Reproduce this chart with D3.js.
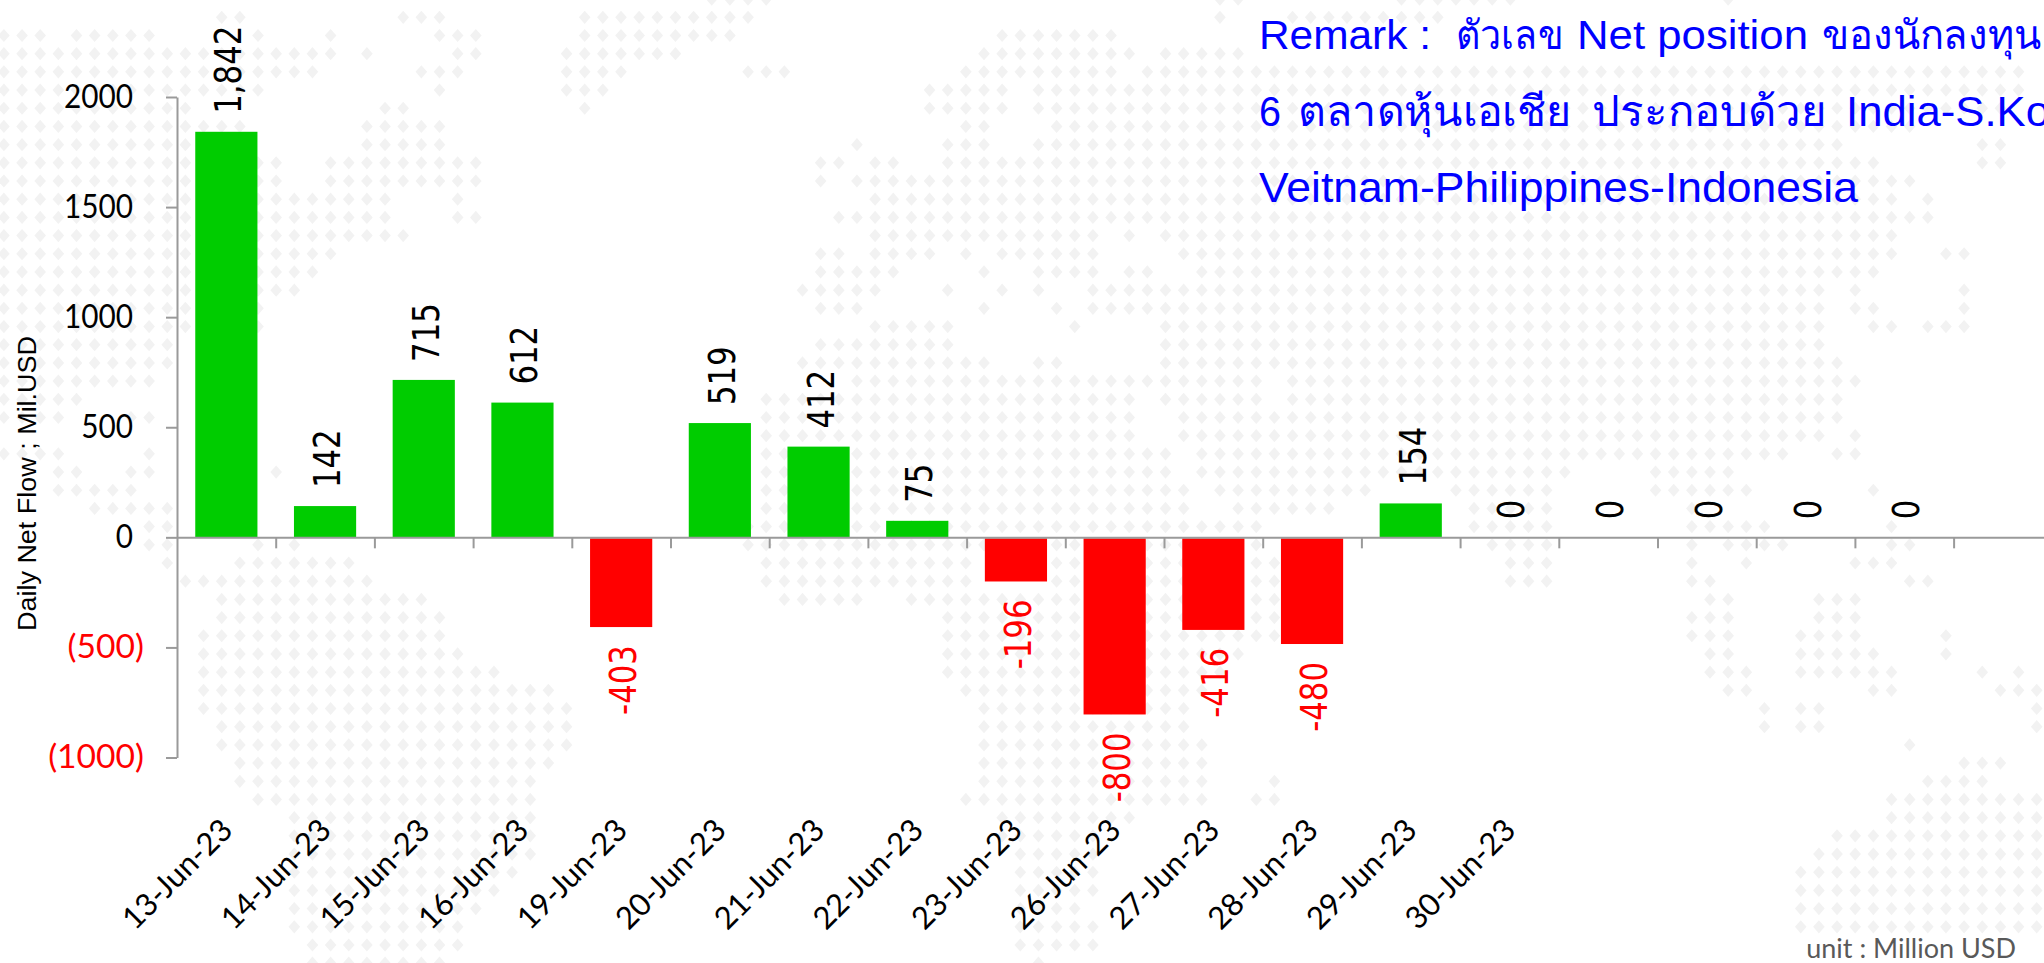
<!DOCTYPE html>
<html><head><meta charset="utf-8">
<script src="https://cdn.jsdelivr.net/npm/d3@7"></script>
<style>
html,body{margin:0;padding:0;background:#fff;overflow:hidden}
svg{display:block}
</style></head><body>
<svg id="c" width="2044" height="963"></svg>
<script>
const dates=["13-Jun-23","14-Jun-23","15-Jun-23","16-Jun-23","19-Jun-23","20-Jun-23","21-Jun-23","22-Jun-23","23-Jun-23","26-Jun-23","27-Jun-23","28-Jun-23","29-Jun-23","30-Jun-23","","","","",""];
const netFlow=[1842,142,715,612,-403,519,412,75,-196,-800,-416,-480,154,0,0,0,0,0,null];
const yTicks=[-1000,-500,0,500,1000,1500,2000];
const yTitle="Daily Net Flow ; Mil.USD";
const remarkLine1=["Remark :","ตัวเลข","Net position","ของนักลงทุน"];
const remarkLine2=["6","ตลาดหุ้นเอเชีย","ประกอบด้วย","India-S.Ko"];
const remarkLine3=["Veitnam-Philippines-Indonesia"];
const unitNote="unit : Million USD";
// decorative dotted world map: occupied grid columns for each grid row, first entry is the row above the top edge
const mapRows=["39-42 67-68 77-83 95","12-13 22-24 32-41 67 71-79","0-2 4-8 14 18 24-26 32-40 55-61","0-18 20 25-26 31-37 54-62 64-68","0-17 23-25 31-34 41-43 53-61 63-111","0-14 24 31-33 51-55 57-111","0-10 21-22 32 51-55 57-110","0-13 20-24 53-54 58-105","0-13 20-24 47 52-54 57-101 109-110","0-15 18-26 45-46 48-49 52-103 109-110","0-15 18-26 45 47-105","0-21 25 48-104 106","0-21 25-26 46-106","0-22 48-60 62 64-104","0-18 45-46 48-51 53 55-60 65-104 107-108","0-17 45-49 54 57-60 62-63 66-103","0-16 44-48 52 55 57 60-100 102 108","0-14 45-47 54 58 60-100 102-103 108","0-14 48-52 59 64-100 103-104 106-108","0-9 45-52 64-100","0-9 44-54 57-58 64-101","0-8 47-69 71-102","0-4 42-62 64-69 71-101","0-3 7-8 42-62 65-70 71-101","42-62 65-71 72-100 102","0-3 8 42-64 66-98 101-102","3-4 7-8 15 42-64 66-86 91-95","3-7 42-65 67-75 80-85 91-96 103","5-9 42-65 68-73 81-85 93","8-9 41-69 81-85 93-97 104","8-9 14 16 41-69 82-85 93 95-98 104-105","9 13-19 42-53 58-70 83-85 93 96 102-104","10-20 42-53 58-70 83-85 93-94 105-106","12-23 43-47 50-70 94-95 100-102","12-24 52-70 93-95 100-102","11-24 52-70 93-95 99-102 107","11-25 52-68 94-95 99-103 107","11-27 52-67 94-96 99-104 109 111","11-30 53-66 95-96 103-104 110-112","11-31 54-65 97 99-100 112","12-31 54-65 97 99-100 112","12-31 54-66 105","13-30 54-66 108-110","13-29 54-66 70 106-109","14-29 53-66 69-70 104-112","16-29 55-62 104-112","16-29 55-60 101-112","16-29 56-60 100-112","16-28 56-60 99-112","16-27 56-60 99-112","16-26 56-59 99-112","16-25 56-60 99-112","17-25 56-60","17-24 57"];

const W=2044,H=963;
const svg=d3.select("#c");
const plotLeft=177, step=98.7;
const yScale=d3.scaleLinear().domain([-1000,2000]).range([757.5,97]);
const xScale=d3.scaleBand().domain(d3.range(dates.length)).range([plotLeft,plotLeft+step*dates.length]).paddingInner(.37).paddingOuter(.185);
const xEdges=d3.scaleLinear().domain([0,dates.length]).range([plotLeft,plotLeft+step*dates.length]);

// background dots
const dots=[];
mapRows.forEach((s,i)=>s.split(" ").forEach(p=>{
  const [a,b]=p.split("-").map(Number);
  for(let c=a;c<=(b===undefined?a:b);c++) dots.push([c,i-1]);
}));
svg.append("g").selectAll("path").data(dots).join("path")
  .attr("d","M0,-6.6L5.8,0L0,6.6L-5.8,0Z")
  .attr("fill","#f2f2f2")
  .attr("transform",d=>`translate(${3.9+18.15*d[0]},${17.3+18.19*d[1]})`);

// bars
const baseY=yScale(0);
svg.append("g").selectAll("rect").data(netFlow.map((v,i)=>({v,i})).filter(d=>d.v)).join("rect")
  .attr("x",d=>xScale(d.i))
  .attr("width",xScale.bandwidth())
  .attr("y",d=>d.v>0?yScale(d.v):baseY+1)
  .attr("height",d=>Math.abs(yScale(d.v)-baseY))
  .attr("fill",d=>d.v>0?"#00CC00":"#FF0000");

// axes
const axisColor="#9a9a9a";
const gy=svg.append("g").attr("transform",`translate(${plotLeft},0)`)
  .call(d3.axisLeft(yScale).tickValues(yTicks).tickSize(11).tickSizeOuter(0).tickFormat(v=>v<0?`(${-v})`:`${v}`));
gy.selectAll("path,line").attr("stroke",axisColor).attr("stroke-width",2);
gy.selectAll("text")
  .attr("font-family","Lato").attr("font-size",32)
  .attr("fill",d=>d<0?"#FF0000":"#000")
  .attr("x",0).attr("dy",null)
  .attr("text-anchor","end")
  .attr("transform",d=>d<0?`translate(-33,10) scale(1.05,1)`:`translate(-44,10) scale(.93,1)`);

const gx=svg.append("g").attr("transform",`translate(0,${baseY})`)
  .call(d3.axisBottom(xEdges).tickValues(d3.range(1,dates.length)).tickSize(11).tickSizeOuter(0).tickFormat(""));
gx.selectAll("path,line").attr("stroke",axisColor).attr("stroke-width",2);

// date labels
svg.append("g").selectAll("text").data(dates.map((d,i)=>({d,i})).filter(d=>d.d)).join("text")
  .text(d=>d.d)
  .attr("font-family","Lato").attr("font-size",31).attr("fill","#000")
  .attr("text-anchor","end")
  .attr("transform",d=>`translate(${xScale(d.i)+xScale.bandwidth()/2+8},832) rotate(-45)`);

// value labels
const fmt=d3.format(",");
svg.append("g").selectAll("text").data(netFlow.map((v,i)=>({v,i})).filter(d=>d.v!==null)).join("text")
  .text(d=>d.v<0?"-"+fmt(-d.v):fmt(d.v))
  .attr("font-family","DejaVu Sans").attr("font-size",38)
  .attr("fill",d=>d.v<0?"#FF0000":"#000")
  .attr("text-anchor",d=>d.v<0?"end":"start")
  .attr("transform",d=>{
    const cx=xScale(d.i)+xScale.bandwidth()/2+15;
    const y=d.v<0?yScale(d.v)+19:yScale(d.v)-18;
    return `translate(${cx},${y}) rotate(-90) scale(.81,1)`;
  });

// axis title
svg.append("text").text(yTitle)
  .attr("font-family","Liberation Sans").attr("font-size",26).attr("fill","#000")
  .attr("text-anchor","middle")
  .attr("textLength",295).attr("lengthAdjust","spacingAndGlyphs")
  .attr("transform","translate(36,483.5) rotate(-90)");

// remarks: each word group is fitted to its own start and end
const remarkLayout=[
  {y:49,size:40,parts:remarkLine1,from:[1259,1456,1577,1822],to:[1431,1563,1808,2041]},
  {y:126,size:42,parts:remarkLine2,from:[1259,1298,1592,1846],to:[1281,1572,1827,2050]},
  {y:202,size:42,parts:remarkLine3,from:[1259],to:[1858]}
];
remarkLayout.forEach(l=>{
  svg.append("g").selectAll("text").data(l.parts).join("text")
    .text(d=>d)
    .attr("x",(d,i)=>l.from[i]).attr("y",l.y)
    .attr("textLength",(d,i)=>l.to[i]-l.from[i])
    .attr("lengthAdjust","spacingAndGlyphs")
    .attr("font-family","Liberation Sans, Noto Sans, sans-serif").attr("font-size",l.size).attr("fill","#0000FF");
});

svg.append("text").text(unitNote)
  .attr("x",2016).attr("y",958).attr("text-anchor","end")
  .attr("font-family","Lato").attr("font-size",27).attr("fill","#595959");
</script>
</body></html>
